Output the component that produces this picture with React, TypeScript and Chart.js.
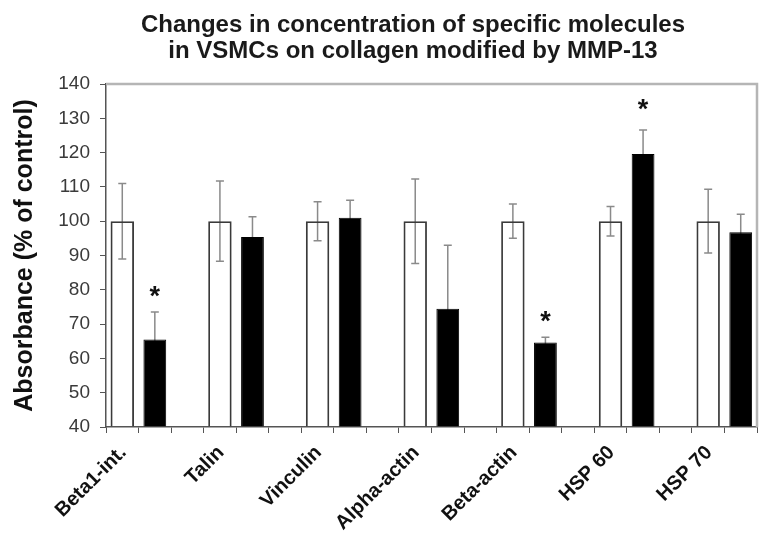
import React, { useEffect, useRef } from "react";
import { Chart, registerables } from "chart.js";

Chart.register(...registerables);

// ---------- data ----------
const TITLE_LINES = [
  "Changes in concentration of specific molecules",
  "in VSMCs on collagen modified by MMP-13",
];
const Y_TITLE = "Absorbance (% of control)";
const CATEGORIES = ["Beta1-int.", "Talin", "Vinculin", "Alpha-actin", "Beta-actin", "HSP 60", "HSP 70"];
const CONTROL_VALUES = [100, 100, 100, 100, 100, 100, 100];
const CONTROL_ERRORS = [11, 11.7, 5.7, 12.3, 5, 4.3, 9.3];
const MMP_VALUES = [65.5, 95.4, 101, 74.5, 64.6, 119.6, 96.8];
const MMP_ERRORS = [8, 5.9, 5.1, 18.5, 1.6, 7, 5.2];
// value (in % of control) at which a significance asterisk is printed
const SIGNIFICANCE_MARKS: (number | null)[] = [80, null, null, null, 72.5, 134.5, null];
const Y_MIN = 40;
const Y_MAX = 140;
const Y_STEP = 10;

// ---------- derived slot layout (white, black, gap per group) ----------
const SLOT_LABELS: string[] = CATEGORIES.flatMap((c, i) =>
  i < CATEGORIES.length - 1 ? [c, "", ""] : [c, ""]
);
const controlSlots = SLOT_LABELS.map((_, s) => (s % 3 === 0 ? CONTROL_VALUES[s / 3] : null));
const controlErrSlots = SLOT_LABELS.map((_, s) => (s % 3 === 0 ? CONTROL_ERRORS[s / 3] : null));
const mmpSlots = SLOT_LABELS.map((_, s) => (s % 3 === 1 ? MMP_VALUES[(s - 1) / 3] : null));
const mmpErrSlots = SLOT_LABELS.map((_, s) => (s % 3 === 1 ? MMP_ERRORS[(s - 1) / 3] : null));

const FONT = "'Liberation Sans', Arial, sans-serif";
const AXIS_COLOR = "#555555";

const errorBarPlugin = {
  id: "errorBars",
  beforeDatasetsDraw(chart: any) {
    const { ctx } = chart;
    const yScale = chart.scales.y;
    ctx.save();
    ctx.strokeStyle = "#8a8a8a";
    ctx.lineWidth = 1.5;
    chart.data.datasets.forEach((ds: any, di: number) => {
      const meta = chart.getDatasetMeta(di);
      ds.data.forEach((v: number | null, i: number) => {
        const e = ds.errors[i];
        if (v == null || e == null) return;
        const x = meta.data[i].x;
        const yT = yScale.getPixelForValue(v + e);
        const yB = yScale.getPixelForValue(v - e);
        const cap = 4;
        ctx.beginPath();
        ctx.moveTo(x, yT);
        ctx.lineTo(x, yB);
        ctx.moveTo(x - cap, yT);
        ctx.lineTo(x + cap, yT);
        ctx.moveTo(x - cap, yB);
        ctx.lineTo(x + cap, yB);
        ctx.stroke();
      });
    });
    ctx.restore();
  },
};

const annotationPlugin = {
  id: "annotations",
  afterDatasetsDraw(chart: any) {
    const { ctx, chartArea } = chart;
    const yScale = chart.scales.y;
    ctx.save();
    // plot frame (top / right)
    ctx.strokeStyle = "#b5b5b5";
    ctx.lineWidth = 2.5;
    ctx.beginPath();
    ctx.moveTo(chartArea.left, chartArea.top);
    ctx.lineTo(chartArea.right, chartArea.top);
    ctx.lineTo(chartArea.right, chartArea.bottom);
    ctx.stroke();
    // significance asterisks
    const meta = chart.getDatasetMeta(1);
    ctx.fillStyle = "#111";
    ctx.font = `bold 27px ${FONT}`;
    ctx.textAlign = "center";
    ctx.textBaseline = "alphabetic";
    SIGNIFICANCE_MARKS.forEach((m, i) => {
      if (m == null) return;
      const x = meta.data[i * 3 + 1].x;
      const y = yScale.getPixelForValue(m);
      ctx.fillText("*", x, y + 27 * 0.55);
    });
    ctx.restore();
  },
  afterDraw(chart: any) {
    const { ctx } = chart;
    ctx.save();
    ctx.fillStyle = "#1a1a1a";
    ctx.font = `bold 24px ${FONT}`;
    ctx.textAlign = "center";
    ctx.textBaseline = "alphabetic";
    ctx.fillText(TITLE_LINES[0], 413, 32);
    ctx.fillText(TITLE_LINES[1], 413, 58);
    ctx.restore();
  },
};

export default function App() {
  const ref = useRef<HTMLCanvasElement | null>(null);
  useEffect(() => {
    if (!ref.current) return;
    Chart.defaults.font.family = FONT;
    const chart = new Chart(ref.current, {
      type: "bar",
      data: {
        labels: SLOT_LABELS,
        datasets: [
          {
            label: "Control",
            data: controlSlots,
            errors: controlErrSlots,
            backgroundColor: "rgba(255,255,255,0)",
            borderColor: "#3a3a3a",
            borderWidth: 1.8,
            grouped: false,
            barPercentage: 0.72,
            categoryPercentage: 1,
            base: Y_MIN,
          } as any,
          {
            label: "MMP-13",
            data: mmpSlots,
            errors: mmpErrSlots,
            backgroundColor: "#000000",
            borderColor: "#000000",
            borderWidth: 1,
            grouped: false,
            barPercentage: 0.7,
            categoryPercentage: 1,
            base: Y_MIN,
          } as any,
        ],
      },
      options: {
        responsive: false,
        animation: false,
        devicePixelRatio: 1,
        layout: { padding: { top: 84, right: 17, left: 0, bottom: 0 } },
        plugins: {
          legend: { display: false },
          tooltip: { enabled: false },
          title: { display: false },
        },
        scales: {
          x: {
            type: "category",
            offset: true,
            grid: {
              display: true,
              offset: true,
              drawOnChartArea: false,
              drawTicks: true,
              tickLength: 6,
              color: AXIS_COLOR,
              lineWidth: 1,
            },
            border: { display: true, color: AXIS_COLOR, width: 1.5 },
            ticks: {
              autoSkip: false,
              minRotation: 45,
              maxRotation: 45,
              padding: 8,
              labelOffset: 1,
              color: "#111",
              font: { size: 20, weight: "bold", family: FONT },
            },
            afterFit: (s: any) => {
              s.height = 123;
            },
          },
          y: {
            min: Y_MIN,
            max: Y_MAX,
            grid: {
              display: true,
              drawOnChartArea: false,
              drawTicks: true,
              tickLength: 6,
              color: AXIS_COLOR,
            },
            border: { display: true, color: AXIS_COLOR, width: 1.5 },
            ticks: {
              stepSize: Y_STEP,
              padding: 10,
              color: "#3a3a3a",
              font: { size: 19, family: FONT },
            },
            title: {
              display: true,
              text: Y_TITLE,
              color: "#111",
              font: { size: 25, weight: "bold", family: FONT },
              padding: { top: 10, bottom: 0 },
            },
            afterFit: (s: any) => {
              s.width = 106;
            },
          },
        },
      } as any,
      plugins: [errorBarPlugin, annotationPlugin],
    });
    return () => chart.destroy();
  }, []);
  return (
    <div style={{ position: "absolute", left: 0, top: 0, width: 774, height: 550, background: "#fff" }}>
      <canvas ref={ref} width={774} height={550} style={{ display: "block" }} />
    </div>
  );
}
